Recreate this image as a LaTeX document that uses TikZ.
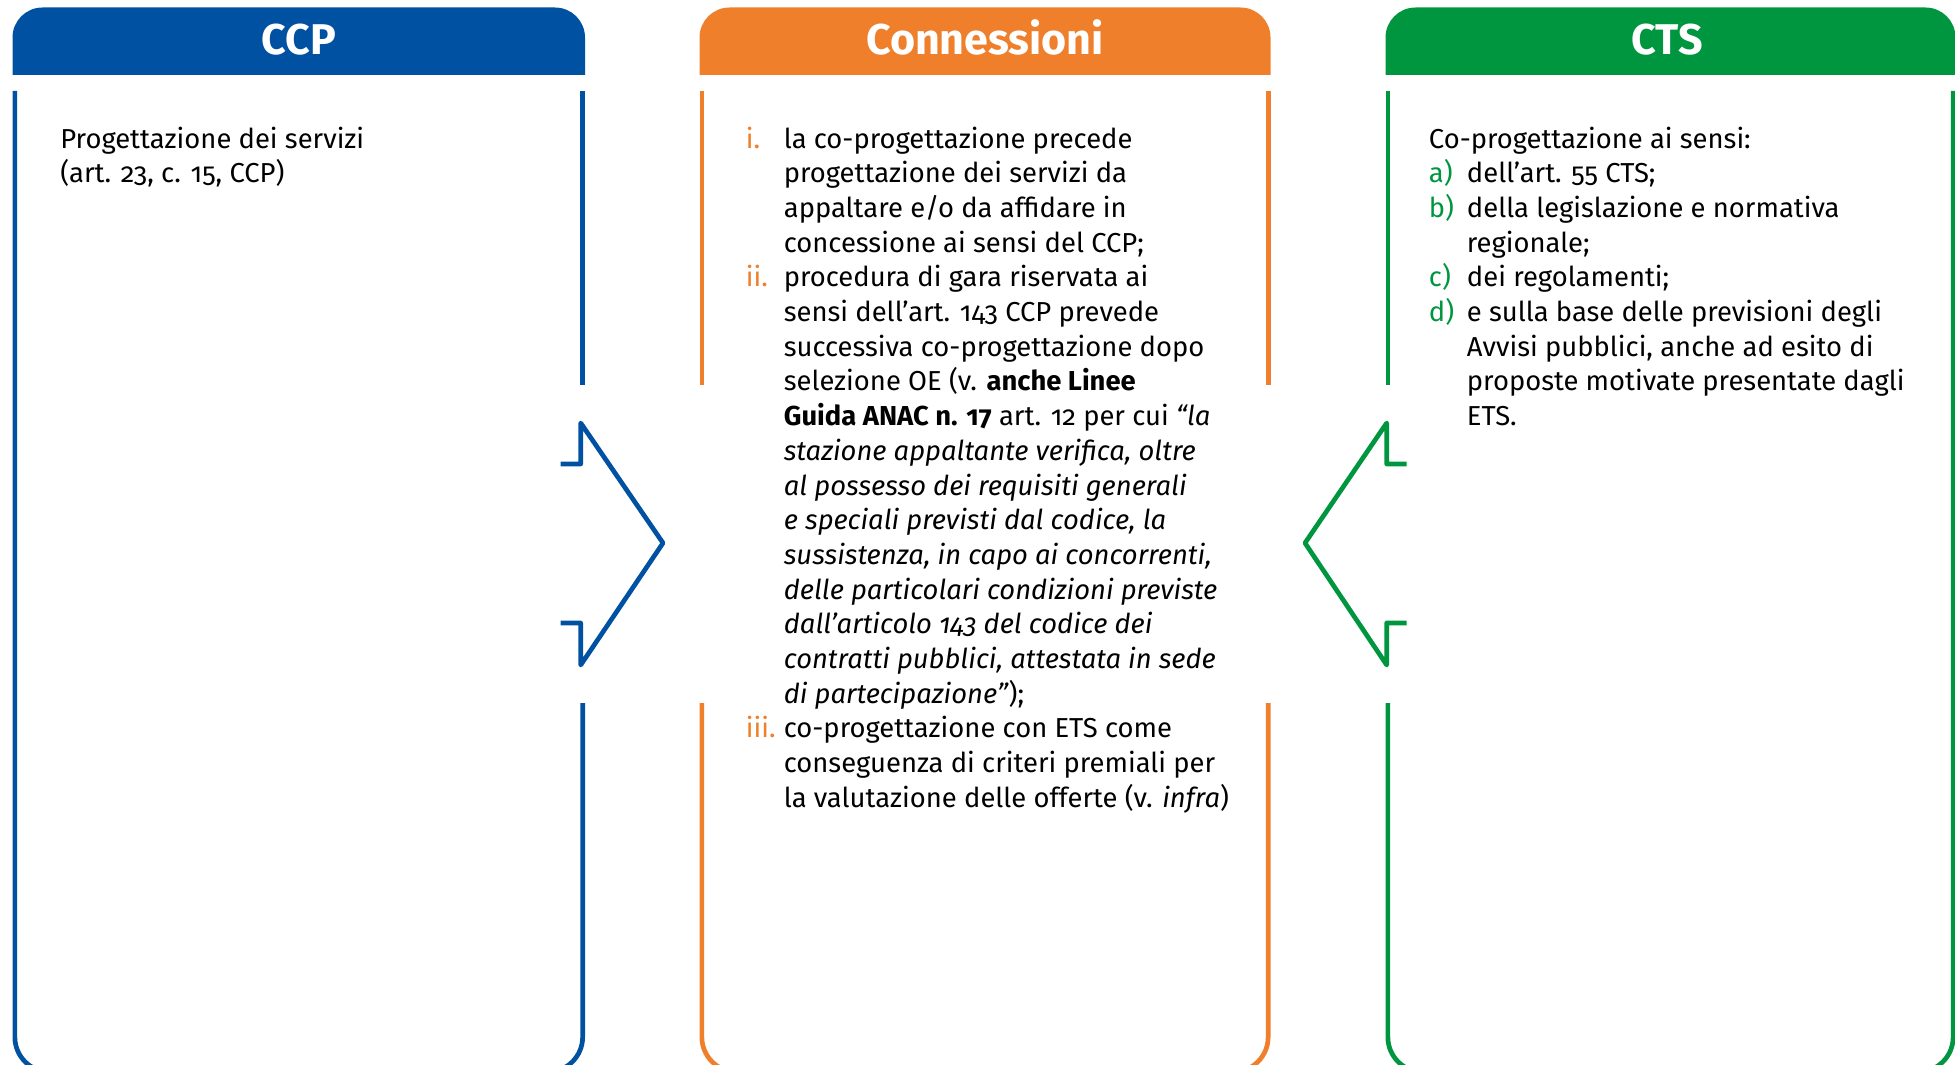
\documentclass[tikz,border=0pt]{standalone}
\usepackage{fontspec}
\setmainfont{Fira Sans}[Numbers=OldStyle]
\definecolor{ccpblue}{HTML}{0051A1}
\definecolor{connorange}{HTML}{EF7F2B}
\definecolor{ctsgreen}{HTML}{009640}
\newcommand{\itm}[2]{\makebox[38pt][l]{\textcolor{#1}{#2}}}
\newcommand{\ind}{\hspace*{38pt}}

\begin{document}
\begin{tikzpicture}[x=1pt,y=1pt,
                    line width=4.7pt]
    \tikzstyle{hdrtext}=[text=white,font=\fontsize{43}{43}\selectfont\bfseries,anchor=base,inner sep=0pt]
    \tikzstyle{bodytext}=[anchor=base west,inner sep=0pt,text=black,font=\fontsize{27.4}{34.7}\selectfont]
    \tikzstyle{chevron}=[line width=4.7pt,line join=round]

    \clip (0,0) rectangle (1955,-1065);

    \fill[ccpblue] (12.5,-75) -- (12.5,-37.5) arc[start angle=180,end angle=90,radius=30]
        -- (555,-7.5) arc[start angle=90,end angle=0,radius=30] -- (585,-75) -- cycle;
    \draw[ccpblue] (582.65,-91) -- (582.65,-385);
    \draw[ccpblue] (14.85,-91) -- (14.85,-1037) arc[start angle=180,end angle=270,radius=35]
        -- (547.65,-1072) arc[start angle=270,end angle=360,radius=35] -- (582.65,-703);

    \fill[connorange] (699.5,-75) -- (699.5,-37.5) arc[start angle=180,end angle=90,radius=30]
        -- (1240.5,-7.5) arc[start angle=90,end angle=0,radius=30] -- (1270.5,-75) -- cycle;
    \draw[connorange] (701.85,-91) -- (701.85,-385);
    \draw[connorange] (1268.15,-91) -- (1268.15,-385);
    \draw[connorange] (701.85,-703) -- (701.85,-1037) arc[start angle=180,end angle=270,radius=35]
        -- (1233.15,-1072) arc[start angle=270,end angle=360,radius=35] -- (1268.15,-703);

    \fill[ctsgreen] (1385.5,-75) -- (1385.5,-37.5) arc[start angle=180,end angle=90,radius=30]
        -- (1925.5,-7.5) arc[start angle=90,end angle=0,radius=30] -- (1955.5,-75) -- cycle;
    \draw[ctsgreen] (1387.85,-91) -- (1387.85,-385);
    \draw[ctsgreen] (1387.85,-703) -- (1387.85,-1037) arc[start angle=180,end angle=270,radius=35]
        -- (1918.15,-1072) arc[start angle=270,end angle=360,radius=35] -- (1953.15,-91);

    \draw[chevron,ccpblue] (560.7,-464) -- (580.7,-464) -- (580.7,-423) -- (663,-543)
        -- (580.7,-665) -- (580.7,-623) -- (560.7,-623);
    \draw[chevron,ctsgreen] (1406.7,-464) -- (1386.7,-464) -- (1386.7,-423) -- (1305,-543)
        -- (1386.7,-665) -- (1386.7,-623) -- (1406.7,-623);

    \node[hdrtext] (hccp) at (298.75,-55) {CCP};
    \node[hdrtext] (hconn) at (985,-55) {Connessioni};
    \node[hdrtext] (hcts) at (1667,-55) {CTS};

    \node[bodytext] (tccp) at (58,-148) {\parbox[t]{500pt}{%
        Progettazione dei servizi\\
        (art. 23, c. 15, CCP)}};

    \node[bodytext] (tconn) at (743.5,-148) {\parbox[t]{500pt}{%
        \itm{connorange}{i.}la co-progettazione precede\\
        \ind progettazione dei servizi da\\
        \ind appaltare e/o da affidare in\\
        \ind concessione ai sensi del CCP;\\
        \itm{connorange}{ii.}procedura di gara riservata ai\\
        \ind sensi dell’art. 143 CCP prevede\\
        \ind successiva co-progettazione dopo\\
        \ind selezione OE (v. \textbf{anche Linee}\\
        \ind\textbf{Guida ANAC n. 17} art. 12 per cui \textit{“la}\\
        \ind\textit{stazione appaltante verifica, oltre}\\
        \ind\textit{al possesso dei requisiti generali}\\
        \ind\textit{e speciali previsti dal codice, la}\\
        \ind\textit{sussistenza, in capo ai concorrenti,}\\
        \ind\textit{delle particolari condizioni previste}\\
        \ind\textit{dall’articolo 143 del codice dei}\\
        \ind\textit{contratti pubblici, attestata in sede}\\
        \ind\textit{di partecipazione”});\\
        \itm{connorange}{iii.}co-progettazione con ETS come\\
        \ind conseguenza di criteri premiali per\\
        \ind la valutazione delle offerte (v. \textit{infra})}};

    \node[bodytext] (tcts) at (1426.6,-148) {\parbox[t]{520pt}{%
        Co-progettazione ai sensi:\\
        \itm{ctsgreen}{a)}dell’art. 55 CTS;\\
        \itm{ctsgreen}{b)}della legislazione e normativa\\
        \ind regionale;\\
        \itm{ctsgreen}{c)}dei regolamenti;\\
        \itm{ctsgreen}{d)}e sulla base delle previsioni degli\\
        \ind Avvisi pubblici, anche ad esito di\\
        \ind proposte motivate presentate dagli\\
        \ind ETS.}};
\end{tikzpicture}
\end{document}
